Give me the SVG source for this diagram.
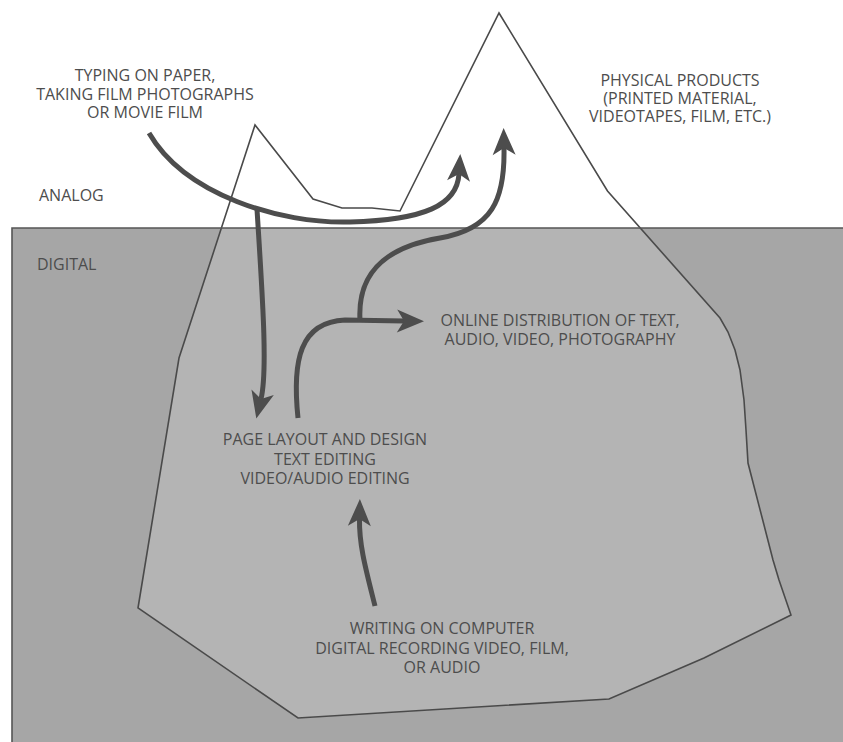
<svg xmlns="http://www.w3.org/2000/svg" width="843" height="742" viewBox="0 0 843 742">
<style>
text{font-family:"Open Sans","Noto Sans","DejaVu Sans",sans-serif;font-size:16px;fill:#4d4d4d;}
.c{text-anchor:middle;}
.berg{stroke:#4a4a4a;stroke-width:1.6;stroke-linejoin:miter;}
.arrow{fill:none;stroke:#4d4d4d;stroke-width:5;stroke-linecap:butt;marker-end:url(#head);}
</style>
<defs>
<marker id="head" markerUnits="userSpaceOnUse" markerWidth="30" markerHeight="30" refX="7" refY="0" orient="auto" overflow="visible">
<path d="M0,-11.5 L27,0 L0,11.5 L7,0 Z" fill="#4d4d4d"/>
</marker>
<clipPath id="water"><rect x="12" y="228" width="840" height="520"/></clipPath>
<polygon id="bergShape" points="138,608 179,358 255,125 313,199 342,208 372,208 400,211 499,13 607.5,191 720,318 728,332 735,350 740,370 744,400 746,430 748,463 773,560 779,580 791,615 704,658 609,699 298,718"/>
</defs>
<g id="sea">
<rect x="12" y="228" width="840" height="520" fill="#a6a6a6"/>
</g>
<g id="iceberg">
<use href="#bergShape" fill="#ffffff"/>
<use href="#bergShape" fill="#b4b4b4" clip-path="url(#water)"/>
<use href="#bergShape" fill="none" class="berg"/>
</g>
<g id="waterline">
<path d="M852,228 H12 V748" fill="none" stroke="#555" stroke-width="1.6"/>
</g>
<g id="connectors">
<path class="arrow" d="M149,133 C185,195 280,224 350,222 C425,220 457,205 459,174"/>
<path class="arrow" d="M257,209 C262,290 268,370 261,399"/>
<path class="arrow" d="M298,418 C292,360 300,322 345,320 L404,321"/>
<path class="arrow" d="M360,320 C357,268 392,246 440,238 C492,229 505,200 504,148"/>
<path class="arrow" d="M375,606 C366,570 359,545 359.5,519"/>
</g>
<g id="analog"><text x="39" y="201">ANALOG</text></g>
<g id="digital"><text x="37" y="270">DIGITAL</text></g>
<g id="typing">
<text class="c" x="145" y="81">TYPING ON PAPER,</text>
<text class="c" x="145" y="99.5">TAKING FILM PHOTOGRAPHS</text>
<text class="c" x="145" y="118">OR MOVIE FILM</text>
</g>
<g id="physical">
<text class="c" x="680" y="86">PHYSICAL PRODUCTS</text>
<text class="c" x="680" y="104">(PRINTED MATERIAL,</text>
<text class="c" x="680" y="122">VIDEOTAPES, FILM, ETC.)</text>
</g>
<g id="online">
<text class="c" x="560" y="326">ONLINE DISTRIBUTION OF TEXT,</text>
<text class="c" x="560" y="345">AUDIO, VIDEO, PHOTOGRAPHY</text>
</g>
<g id="layout">
<text class="c" x="325" y="445">PAGE LAYOUT AND DESIGN</text>
<text class="c" x="325" y="464.5">TEXT EDITING</text>
<text class="c" x="325" y="484">VIDEO/AUDIO EDITING</text>
</g>
<g id="writing">
<text class="c" x="442" y="634">WRITING ON COMPUTER</text>
<text class="c" x="442" y="654">DIGITAL RECORDING VIDEO, FILM,</text>
<text class="c" x="442" y="673">OR AUDIO</text>
</g>
</svg>
